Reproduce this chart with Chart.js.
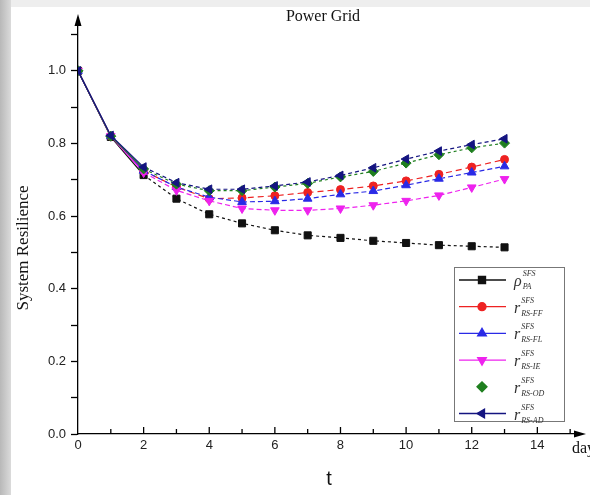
<!DOCTYPE html>
<html>
<head>
<meta charset="utf-8">
<script src="https://cdn.jsdelivr.net/npm/chart.js@4/dist/chart.umd.min.js"></script>
<style>
html,body{margin:0;padding:0;background:#fff;}
canvas{display:block;}
</style>
</head>
<body>
<canvas id="c" width="590" height="495"></canvas>
<script>
// ---- data ----
const days = [0,1,2,3,4,5,6,7,8,9,10,11,12,13];
const rhoPA   = [1.0,0.818,0.713,0.648,0.605,0.580,0.561,0.547,0.540,0.532,0.526,0.520,0.517,0.514];
const rRSFF   = [1.0,0.820,0.725,0.680,0.648,0.650,0.656,0.665,0.673,0.683,0.697,0.715,0.735,0.756];
const rRSFL   = [1.0,0.820,0.725,0.680,0.652,0.639,0.641,0.648,0.660,0.669,0.685,0.703,0.720,0.737];
const rRSIE   = [1.0,0.820,0.720,0.671,0.642,0.621,0.616,0.616,0.621,0.630,0.642,0.657,0.679,0.702];
const rRSOD   = [1.0,0.820,0.730,0.688,0.670,0.670,0.680,0.690,0.708,0.723,0.746,0.769,0.788,0.801];
const rRSAD   = [1.0,0.822,0.735,0.692,0.674,0.674,0.683,0.694,0.712,0.733,0.757,0.779,0.797,0.813];
const xTickLabels = [0,2,4,6,8,10,12,14];
const yTickLabels = [0.0,0.2,0.4,0.6,0.8,1.0];
const legendBase = ['ρ','r','r','r','r','r'];
const legendSup  = ['SFS','SFS','SFS','SFS','SFS','SFS'];
const legendSub  = ['PA','RS-FF','RS-FL','RS-IE','RS-OD','RS-AD'];

const pts = arr => arr.map((v,i)=>({x:days[i], y:v}));

function ds(label, data, color, style, rot, dash, order){
  return {
    label, data: pts(data), borderColor: color, backgroundColor: color,
    pointBackgroundColor: color, pointBorderColor: color,
    pointStyle: style, pointRotation: rot, pointRadius: style==='circle'?4:5,
    pointBorderWidth: 1, borderWidth: 1.2, showLine: true, order,
    segment: { borderDash: c => c.p0DataIndex < 2 ? [] : dash },
    tension: 0
  };
}

const datasets = [
  ds('rhoPA', rhoPA, '#111111', 'rect', 0, [3,3], 6),
  ds('FF', rRSFF, '#ee2222', 'circle', 0, [6,4], 5),
  ds('FL', rRSFL, '#2a2ae6', 'triangle', 0, [5,3], 4),
  ds('IE', rRSIE, '#ee22ee', 'triangle', 180, [5,3], 3),
  ds('OD', rRSOD, '#1f7f1f', 'rectRot', 0, [3,3], 2),
  ds('AD', rRSAD, '#141480', 'triangle', -90, [4,3], 1),
];

const framePlugin = {
  id: 'frame',
  beforeDraw(chart){
    const ctx = chart.ctx;
    ctx.save();
    ctx.fillStyle = '#ffffff';
    ctx.fillRect(0,0,chart.width,chart.height);
    ctx.fillStyle = '#eeeeee';
    ctx.fillRect(0,0,chart.width,7);
    const g = ctx.createLinearGradient(0,0,12,0);
    g.addColorStop(0,'#b8b8b8'); g.addColorStop(1,'#dedede');
    ctx.fillStyle = g;
    ctx.fillRect(0,0,11,chart.height);
    ctx.restore();
  },
  afterDraw(chart){
    const ctx = chart.ctx, a = chart.chartArea;
    const xs = chart.scales.x;
    ctx.save();
    ctx.strokeStyle = '#000'; ctx.fillStyle = '#000'; ctx.lineWidth = 1.3;
    // x ticks upward
    for (let v = 1; v <= 15; v++){
      const px = xs.getPixelForValue(v);
      const len = (v % 2 === 0) ? 7 : 5;
      ctx.beginPath(); ctx.moveTo(px, a.bottom); ctx.lineTo(px, a.bottom - len); ctx.stroke();
    }
    // arrows
    ctx.beginPath();
    ctx.moveTo(a.left, a.top - 6); ctx.lineTo(a.left - 3.5, a.top + 6); ctx.lineTo(a.left + 3.5, a.top + 6); ctx.closePath(); ctx.fill();
    ctx.beginPath();
    ctx.moveTo(a.right + 6, a.bottom); ctx.lineTo(a.right - 6, a.bottom - 3.5); ctx.lineTo(a.right - 6, a.bottom + 3.5); ctx.closePath(); ctx.fill();
    // title
    ctx.fillStyle = '#111';
    ctx.font = '16px "Liberation Serif", serif';
    ctx.textAlign = 'center'; ctx.textBaseline = 'middle';
    ctx.fillText('Power Grid', 323, 17);
    // y axis title
    ctx.save();
    ctx.translate(24, 248);
    ctx.rotate(-Math.PI/2);
    ctx.font = '17px "Liberation Serif", serif';
    ctx.fillText('System Resilience', 0, 0);
    ctx.restore();
    // day label
    ctx.font = '16px "Liberation Serif", serif';
    ctx.textAlign = 'left';
    ctx.fillText('day', 572, 449);
    ctx.restore();
  },
  afterDatasetsDraw(chart){
    const ctx = chart.ctx;
    const L = 454, T = 267, R = 564, B = 421;
    ctx.save();
    ctx.fillStyle = '#fff';
    ctx.fillRect(L, T, R-L, B-T);
    ctx.strokeStyle = '#777'; ctx.lineWidth = 1;
    ctx.strokeRect(L+0.5, T+0.5, R-L, B-T);
    chart.data.datasets.forEach((d, i) => {
      const y = 280 + i * 26.7;
      ctx.strokeStyle = d.borderColor; ctx.fillStyle = d.backgroundColor; ctx.lineWidth = 1.3;
      if (i !== 4){
        ctx.setLineDash([]);
        ctx.beginPath(); ctx.moveTo(459, y); ctx.lineTo(506, y); ctx.stroke();
      }
      Chart.helpers.drawPoint(ctx, {pointStyle: d.pointStyle, radius: d.pointRadius, rotation: d.pointRotation, borderWidth: 1}, 482, y);
      ctx.fillStyle = '#333';
      ctx.textBaseline = 'alphabetic'; ctx.textAlign = 'left';
      ctx.font = 'italic 16px "Liberation Serif", serif';
      ctx.fillText(legendBase[i], 514, y + 6);
      const bw = ctx.measureText(legendBase[i]).width;
      ctx.font = 'italic 8px "Liberation Serif", serif';
      ctx.fillText(legendSup[i], 514 + bw + 1, y - 4);
      ctx.fillText(legendSub[i], 514 + bw + 1, y + 9);
    });
    ctx.restore();
  }
};

new Chart(document.getElementById('c'), {
  type: 'scatter',
  data: { datasets },
  plugins: [framePlugin],
  options: {
    responsive: false, animation: false,
    layout: { padding: { top: 20, right: 10, left: 0, bottom: 0 } },
    plugins: { legend: { display: false }, tooltip: { enabled: false }, title: { display: false } },
    scales: {
      x: {
        type: 'linear', min: 0, max: 15.3,
        afterBuildTicks: s => { s.ticks = xTickLabels.map(v => ({value: v})); },
        ticks: { callback: v => String(v), color: '#222', font: { size: 13, family: '"Liberation Sans", Arial, sans-serif' }, padding: 4, maxRotation: 0, autoSkip: false },
        grid: { drawOnChartArea: false, drawTicks: false },
        border: { color: '#000', width: 1.3 },
        title: { display: true, text: 't', color: '#111', font: { size: 20, family: '"Liberation Sans", Arial, sans-serif' }, padding: { top: 12 } },
        afterFit: s => { s.height = 61; }
      },
      y: {
        type: 'linear', min: 0, max: 1.14,
        afterBuildTicks: s => { const t = []; for (let k = 0; k <= 11; k++) t.push({value: k/10}); s.ticks = t; },
        ticks: { callback: (v) => { const k = Math.round(v*10); return (k % 2 === 0 && k <= 10) ? (k/10).toFixed(1) : ''; }, color: '#222', font: { size: 13, family: '"Liberation Sans", Arial, sans-serif' }, padding: 5, autoSkip: false },
        grid: { drawOnChartArea: false, tickLength: 7, tickColor: '#000', tickWidth: 1.3 },
        border: { color: '#000', width: 1.3 },
        title: { display: false },
        afterFit: s => { s.width = 78; }
      }
    }
  }
});
</script>
</body>
</html>
